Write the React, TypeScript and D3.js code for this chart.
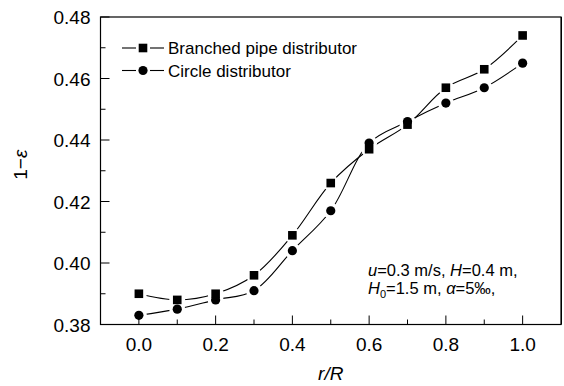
import React from "react";
import * as d3 from "d3";

const rR = [0.0, 0.1, 0.2, 0.3, 0.4, 0.5, 0.6, 0.7, 0.8, 0.9, 1.0];
const branched = [0.39, 0.388, 0.39, 0.396, 0.409, 0.426, 0.437, 0.445, 0.457, 0.463, 0.474];
const circle = [0.383, 0.385, 0.388, 0.391, 0.404, 0.417, 0.439, 0.446, 0.452, 0.457, 0.465];
const xTicks = [0.0, 0.2, 0.4, 0.6, 0.8, 1.0];
const xMinor = [0.1, 0.3, 0.5, 0.7, 0.9];
const yTicks = [0.38, 0.4, 0.42, 0.44, 0.46, 0.48];
const yMinor = [0.39, 0.41, 0.43, 0.45, 0.47];
const seriesNames = ["Branched pipe distributor", "Circle distributor"];

const W = 564, H = 386;
const M = { left: 100.5, right: 561, top: 17, bottom: 324.5 };
const FONT = "'Liberation Sans', Arial, sans-serif";

export default function App() {
  const x = d3.scaleLinear().domain([-0.1, 1.1]).range([M.left, M.right]);
  const y = d3.scaleLinear().domain([0.38, 0.48]).range([M.bottom, M.top]);
  const line = d3
    .line<number>()
    .x((_, i) => x(rR[i]))
    .y((d) => y(d))
    .curve(d3.curveCatmullRom.alpha(0.5));
  const series = [branched, circle];
  const sq = 8.6;
  const cr = 4.6;

  return (
    <svg width={W} height={H} style={{ position: "absolute", left: 0, top: 0, background: "#fff" }}>
      <rect x={0} y={0} width={W} height={H} fill="#fff" />
      {series.map((s, k) => (
        <path key={k} d={line(s) || ""} fill="none" stroke="#000" strokeWidth={1.1} />
      ))}
      {series.map((s, k) =>
        s.map((v, i) => <circle key={`p${k}-${i}`} cx={x(rR[i])} cy={y(v)} r={8} fill="#fff" />)
      )}
      {branched.map((v, i) => (
        <rect key={`s${i}`} x={x(rR[i]) - sq / 2} y={y(v) - sq / 2} width={sq} height={sq} fill="#000" />
      ))}
      {circle.map((v, i) => (
        <circle key={`c${i}`} cx={x(rR[i])} cy={y(v)} r={cr} fill="#000" />
      ))}
      <rect x={M.left} y={M.top} width={M.right - M.left} height={M.bottom - M.top} fill="none" stroke="#000" strokeWidth={1.2} />
      <line x1={M.right + 0.5} x2={M.right + 0.5} y1={M.top} y2={M.bottom} stroke="#000" strokeWidth={1} />
      {xTicks.map((t) => (
        <g key={`xt${t}`}>
          <line x1={x(t)} x2={x(t)} y1={M.bottom} y2={M.bottom - 9} stroke="#000" strokeWidth={1} />
          <text x={x(t)} y={M.bottom + 26} textAnchor="middle" fontFamily={FONT} fontSize={19}>
            {t.toFixed(1)}
          </text>
        </g>
      ))}
      {xMinor.map((t) => (
        <line key={`xm${t}`} x1={x(t)} x2={x(t)} y1={M.bottom} y2={M.bottom - 5} stroke="#000" strokeWidth={1} />
      ))}
      {yTicks.map((t) => (
        <g key={`yt${t}`}>
          <line x1={M.left} x2={M.left + 9} y1={y(t)} y2={y(t)} stroke="#000" strokeWidth={1} />
          <text x={M.left - 10} y={y(t) + 7} textAnchor="end" fontFamily={FONT} fontSize={19}>
            {t.toFixed(2)}
          </text>
        </g>
      ))}
      {yMinor.map((t) => (
        <line key={`ym${t}`} x1={M.left} x2={M.left + 5} y1={y(t)} y2={y(t)} stroke="#000" strokeWidth={1} />
      ))}
      <text x={(M.left + M.right) / 2} y={380} textAnchor="middle" fontFamily={FONT} fontSize={19} fontStyle="italic">
        r/R
      </text>
      <text transform={`translate(27,${(M.top + M.bottom) / 2 - 6}) rotate(-90)`} textAnchor="middle" fontFamily={FONT} fontSize={19}>
        1−<tspan fontStyle="italic">ε</tspan>
      </text>
      {seriesNames.map((n, k) => {
        const ly = 48 + k * 22.5;
        return (
          <g key={n}>
            <line x1={122} x2={136} y1={ly} y2={ly} stroke="#000" strokeWidth={1.1} />
            <line x1={150} x2={164} y1={ly} y2={ly} stroke="#000" strokeWidth={1.1} />
            {k === 0 ? (
              <rect x={143 - sq / 2} y={ly - sq / 2} width={sq} height={sq} fill="#000" />
            ) : (
              <circle cx={143} cy={ly} r={cr} fill="#000" />
            )}
            <text x={168} y={ly + 6} fontFamily={FONT} fontSize={17}>
              {n}
            </text>
          </g>
        );
      })}
      <text x={368} y={276} fontFamily={FONT} fontSize={16.5}>
        <tspan fontStyle="italic">u</tspan>=0.3 m/s, <tspan fontStyle="italic">H</tspan>=0.4 m,
      </text>
      <text x={368} y={294} fontFamily={FONT} fontSize={16.5}>
        <tspan fontStyle="italic">H</tspan>
        <tspan fontSize={11} dy={4}>0</tspan>
        <tspan dy={-4}>=1.5 m, </tspan>
        <tspan fontStyle="italic">α</tspan>=5‰,
      </text>
    </svg>
  );
}
